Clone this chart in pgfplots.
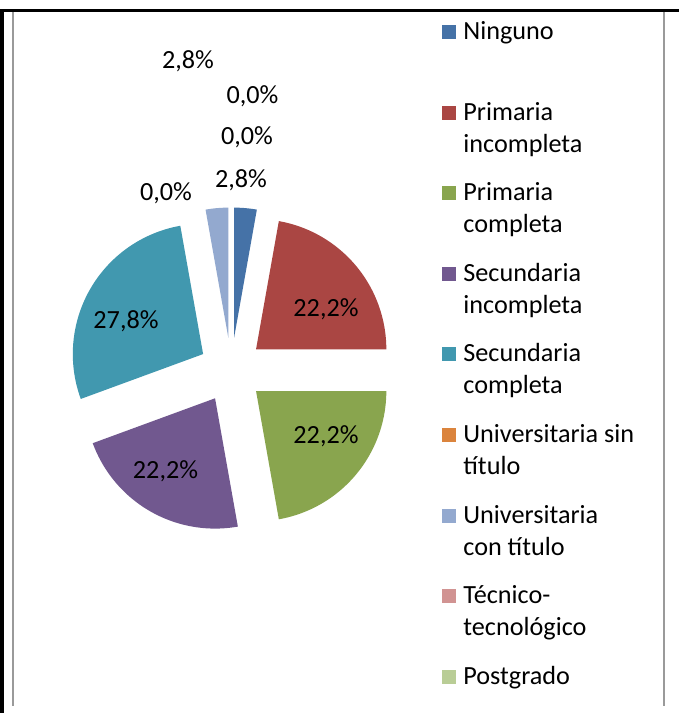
\documentclass[border=0pt]{standalone}
\usepackage{fontspec}
\setmainfont{Carlito}
\usepackage{pgfplots}
\usepackage{pgfplotstable}
\pgfplotsset{compat=1.18}
\definecolor{c0}{HTML}{4572A7}
\definecolor{c1}{HTML}{AA4643}
\definecolor{c2}{HTML}{89A54E}
\definecolor{c3}{HTML}{71588F}
\definecolor{c4}{HTML}{4198AF}
\definecolor{c5}{HTML}{DB843D}
\definecolor{c6}{HTML}{93A9CF}
\definecolor{c7}{HTML}{D19392}
\definecolor{c8}{HTML}{B9CD96}
\definecolor{framegray}{HTML}{9A9A9A}
\pgfplotstableread{
idx value
0 2.8
1 22.2
2 22.2
3 22.2
4 27.8
5 0.0
6 2.8
7 0.0
8 0.0
}\piedata
\begin{document}
\begin{tikzpicture}
\fontsize{13.1}{16}\selectfont
\begin{axis}[x=0.5pt, y=0.5pt, xmin=0, xmax=679, ymin=0, ymax=713,
  hide axis, scale only axis, clip=false]
\coordinate (bl) at (axis cs:0,0);
\coordinate (tr) at (axis cs:679,713);
\fill[white] (axis cs:0,0) rectangle (axis cs:679,713);
% frame
\fill[black] (axis cs:0,701.3) rectangle (axis cs:679,704);
\fill[black] (axis cs:0,0) rectangle (axis cs:3.8,704);
\fill[framegray] (axis cs:12,7) rectangle (axis cs:14,701.3);
\fill[framegray] (axis cs:662.5,7) rectangle (axis cs:665,701.3);
% pie
\xdef\cum{0}
\pgfplotsinvokeforeach{0,...,8}{
  \pgfplotstablegetelem{#1}{value}\of\piedata
  \let\v\pgfplotsretval
  \pgfmathsetmacro{\sa}{90-3.6*\cum}
  \pgfmathsetmacro{\ea}{90-3.6*(\cum+\v)}
  \pgfmathsetmacro{\ma}{(\sa+\ea)/2}
  \pgfmathsetmacro{\vx}{231.2+32.4*cos(\ma)}
  \pgfmathsetmacro{\vy}{342.8+32.4*sin(\ma)}
  \pgfmathsetmacro{\newcum}{\cum+\v}
  \xdef\cum{\newcum}
  \ifdim\v pt>0pt
    \edef\tmp{\noexpand\addplot[fill=c#1, draw=none, domain=\ea:\sa, samples=90, variable=\noexpand\t]
      ({\vx+130.3*cos(\noexpand\t)},{\vy+130.3*sin(\noexpand\t)}) -- (axis cs:\vx,\vy) -- cycle;}
    \tmp
  \fi
}
% data labels
\node[anchor=base] at (axis cs:188,644) {2,8\%};
\node[anchor=base] at (axis cs:252.5,609) {0,0\%};
\node[anchor=base] at (axis cs:247,568) {0,0\%};
\node[anchor=base] at (axis cs:241,525) {2,8\%};
\node[anchor=base] at (axis cs:166,512) {0,0\%};
\node[anchor=base] at (axis cs:326,396.5) {22,2\%};
\node[anchor=base] at (axis cs:326,269.5) {22,2\%};
\node[anchor=base] at (axis cs:165.5,234.5) {22,2\%};
\node[anchor=base] at (axis cs:126,384.5) {27,8\%};
% legend
\pgfplotsinvokeforeach{0,...,8}{
  \pgfmathsetmacro{\syl}{713-(32.5+80.5*#1)-7}
  \pgfmathsetmacro{\syh}{713-(32.5+80.5*#1)+7}
  \edef\tmp{\noexpand\fill[c#1] (axis cs:442,\syl) rectangle (axis cs:456,\syh);}
  \tmp
}
\newcommand\legtext[3]{%
  \node[anchor=base west, inner sep=0pt] at (axis cs:463,{713-(40+80.5*#1)}) {#2};
  \node[anchor=base west, inner sep=0pt] at (axis cs:463,{713-(72+80.5*#1)}) {#3};}
\legtext{0}{Ninguno}{}
\legtext{1}{Primaria}{incompleta}
\legtext{2}{Primaria}{completa}
\legtext{3}{Secundaria}{incompleta}
\legtext{4}{Secundaria}{completa}
\legtext{5}{Universitaria sin}{título}
\legtext{6}{Universitaria}{con título}
\legtext{7}{Técnico-}{tecnológico}
\legtext{8}{Postgrado}{}
\end{axis}
\pgfresetboundingbox
\useasboundingbox (bl) rectangle (tr);
\end{tikzpicture}
\end{document}
